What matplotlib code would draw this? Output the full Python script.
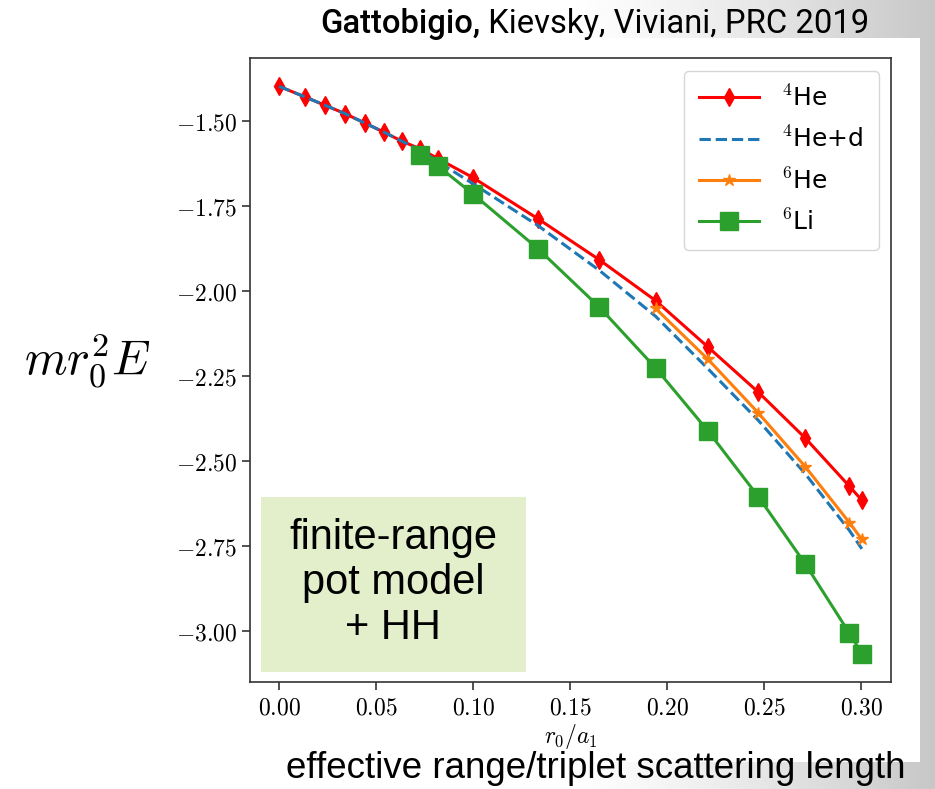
import numpy as np
import matplotlib
matplotlib.use("Agg")
import matplotlib.pyplot as plt
from matplotlib.patches import Rectangle
from matplotlib.ticker import FuncFormatter

plt.rcParams['mathtext.fontset'] = 'cm'

# r0/a1 grid and scaled energies mr0^2 E
x_he4 = [0.0, 0.0133, 0.0238, 0.0339, 0.0442, 0.0538, 0.0635, 0.0725, 0.0820,
         0.0998, 0.1333, 0.1650, 0.1940, 0.2211, 0.2469, 0.2711, 0.2939, 0.3003]
e_he4 = [-1.398, -1.429, -1.454, -1.478, -1.506, -1.532, -1.560, -1.581, -1.611,
         -1.666, -1.787, -1.908, -2.028, -2.165, -2.297, -2.432, -2.574, -2.615]
e_he4d = [-1.398, -1.429, -1.454, -1.478, -1.506, -1.532, -1.560, -1.585, -1.620,
          -1.684, -1.807, -1.939, -2.074, -2.229, -2.380, -2.537, -2.704, -2.758]

x_he6 = [0.1940, 0.2211, 0.2469, 0.2711, 0.2939, 0.3003]
e_he6 = [-2.051, -2.201, -2.358, -2.516, -2.681, -2.730]

x_li6 = [0.0725, 0.0820, 0.0998, 0.1333, 0.1650, 0.1940, 0.2211, 0.2469,
         0.2711, 0.2939, 0.3003]
e_li6 = [-1.599, -1.633, -1.714, -1.875, -2.047, -2.226, -2.412, -2.604,
         -2.802, -3.006, -3.066]

W, H = 935, 789
fig = plt.figure(figsize=(W / 100, H / 100), dpi=100)

def fx(px):
    return px / W

def fy(py):
    return 1 - py / H

# slide background: white with a grey fade on the right
bg = fig.add_axes([0, 0, 1, 1], zorder=-1)
bg.set_xlim(0, W)
bg.set_ylim(H, 0)
bg.axis('off')
cols = np.linspace(0, W, 400)
shade = 1 - 0.22 * np.clip((cols - 560) / 375, 0, 1) ** 1.3
grad = np.tile(shade, (10, 1))
bg.imshow(grad, cmap='gray', vmin=0, vmax=1, extent=[0, W, H, 0], aspect='auto')
bg.add_patch(Rectangle((0, 38), 920, 724, color='white', lw=0))
bg.add_patch(Rectangle((0, 0), 560, H, color='white', lw=0))

ax = fig.add_axes([fx(250), fy(682), fx(891) - fx(250), fy(58) - fy(682)])
ax.plot(x_he4, e_he4, color='red', lw=2.2, marker='d', ms=9, label=r'$^4$He')
ax.plot(x_he4, e_he4d, color='#1f77b4', lw=2.2, ls='--', label=r'$^4$He+d')
ax.plot(x_he6, e_he6, color='#ff7f0e', lw=2.2, marker='*', ms=9, label=r'$^6$He')
ax.plot(x_li6, e_li6, color='#2ca02c', lw=2.2, marker='s', ms=12.5, label=r'$^6$Li')

ax.set_xticks([0.0, 0.05, 0.10, 0.15, 0.20, 0.25, 0.30])
ax.set_yticks([-3.0, -2.75, -2.5, -2.25, -2.0, -1.75, -1.5])
fmt = FuncFormatter(lambda v, p: '$%.2f$' % v)
ax.xaxis.set_major_formatter(fmt)
ax.yaxis.set_major_formatter(fmt)
ax.tick_params(labelsize=17, length=6, width=1.2, color='#333333')
for s in ax.spines.values():
    s.set_color('#333333')
    s.set_linewidth(1.2)
ax.set_xlabel(r'$r_0/a_1$', fontsize=17, labelpad=2)
ax.legend(loc='upper right', fontsize=18, handlelength=2.4, labelspacing=0.62,
          borderpad=0.6, handletextpad=0.9)

fig.text(fx(88), fy(360), r'$mr_0^2E$', fontsize=35, ha='center', va='center')

fig.add_artist(Rectangle((fx(261), fy(672)), fx(526) - fx(261), fy(497) - fy(672),
                         transform=fig.transFigure, color='#e2efca', lw=0))
fig.text(fx(393), fy(583), 'finite-range\npot model\n+ HH', fontsize=30,
         family='Liberation Sans', ha='center', va='center', linespacing=1.17)

fig.text(fx(596), fy(768), 'effective range/triplet scattering length', fontsize=26.5,
         family='Liberation Sans', ha='center', va='center')

# citation line, squeezed to the width of the plot header
r = fig.canvas.get_renderer()
size = 24
t1 = fig.text(fx(320), fy(33), 'Gattobigio,', fontsize=size, weight='medium',
              family='Roboto', va='baseline')
t2 = fig.text(0, fy(33), ' Kievsky, Viviani, PRC 2019', fontsize=size,
              weight='normal', family='Roboto', va='baseline')
w = t1.get_window_extent(r).width + t2.get_window_extent(r).width
size = size * 550 / w
t1.set_fontsize(size)
t2.set_fontsize(size)
t2.set_x(t1.get_window_extent(r).x1 / W)

fig.savefig('out.png', dpi=100)
